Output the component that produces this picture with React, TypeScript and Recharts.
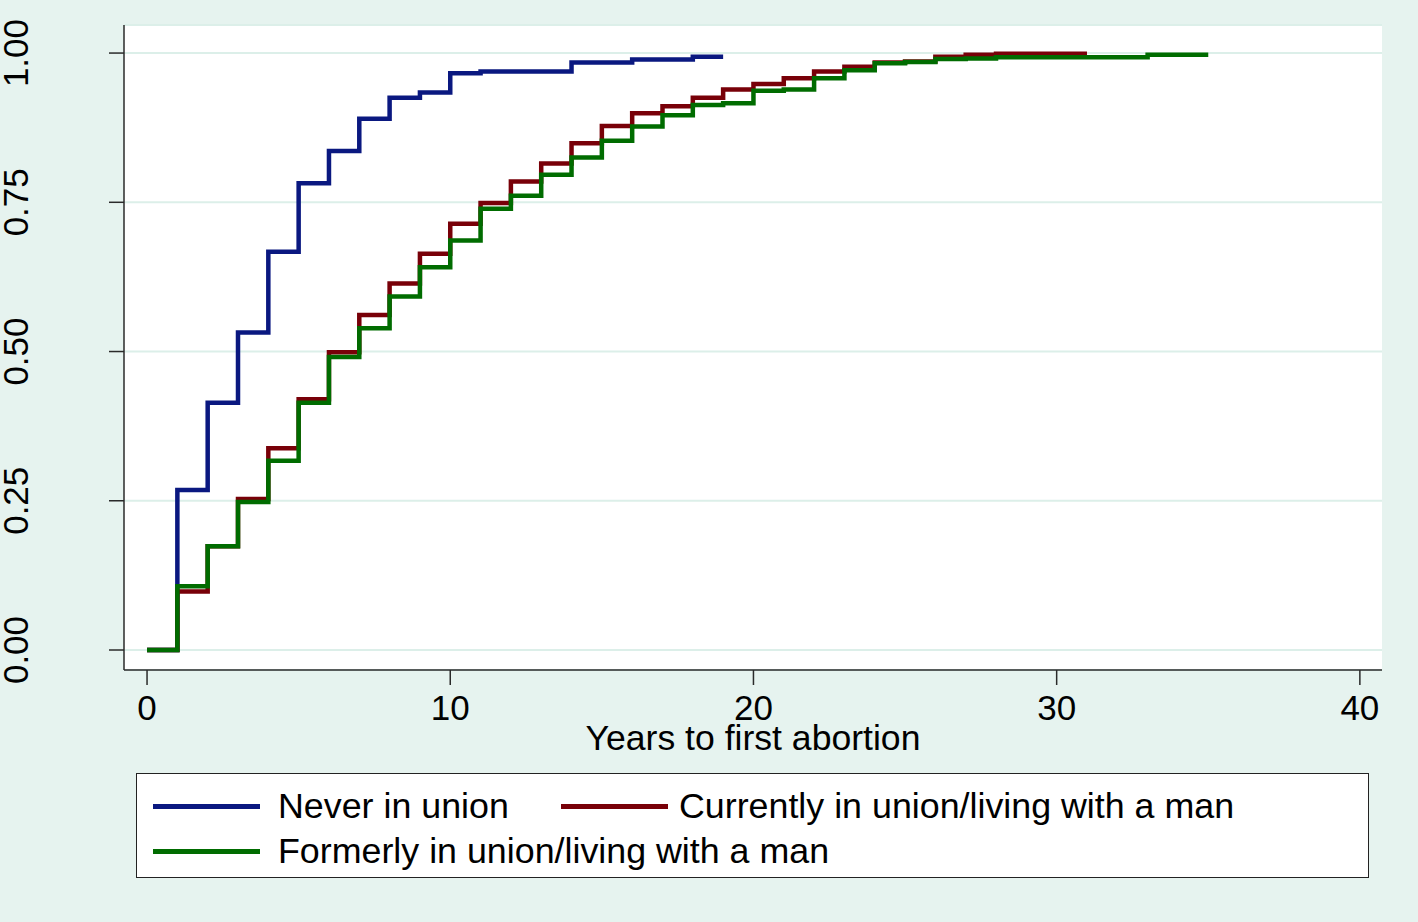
import React from 'react';
import { LineChart, Line, XAxis, YAxis, CartesianGrid, Legend } from 'recharts';

// Kaplan-Meier failure estimates
const neverYears = [0, 1, 2, 3, 4, 5, 6, 7, 8, 9, 10, 11, 14, 16, 18, 19];
const neverValues = [0, 0.268, 0.414, 0.532, 0.667, 0.782, 0.836, 0.89, 0.925, 0.934, 0.966, 0.969, 0.984, 0.989, 0.994, 0.994];

const currentYears = [0, 1, 2, 3, 4, 5, 6, 7, 8, 9, 10, 11, 12, 13, 14, 15, 16, 17, 18, 19, 20, 21, 22, 23, 24, 25, 26, 27, 28, 31];
const currentValues = [0, 0.098, 0.174, 0.253, 0.338, 0.42, 0.499, 0.561, 0.614, 0.664, 0.714, 0.749, 0.785, 0.815, 0.849, 0.878, 0.899, 0.911, 0.925, 0.939, 0.948, 0.958, 0.969, 0.977, 0.984, 0.986, 0.994, 0.997, 0.999, 0.999];

const formerYears = [0, 1, 2, 3, 4, 5, 6, 7, 8, 9, 10, 11, 12, 13, 14, 15, 16, 17, 18, 19, 20, 21, 22, 23, 24, 25, 26, 27, 28, 33, 35];
const formerValues = [0, 0.107, 0.174, 0.248, 0.317, 0.414, 0.491, 0.539, 0.592, 0.641, 0.686, 0.739, 0.761, 0.796, 0.825, 0.853, 0.877, 0.896, 0.913, 0.916, 0.937, 0.939, 0.958, 0.971, 0.983, 0.985, 0.99, 0.991, 0.993, 0.997, 0.997];

const xTicks = [0, 10, 20, 30, 40];
const yTicks = [0, 0.25, 0.5, 0.75, 1];
const yTickLabels = ['0.00', '0.25', '0.50', '0.75', '1.00'];

const seriesNames = ['Never in union', 'Currently in union/living with a man', 'Formerly in union/living with a man'];

const toRows = (years: number[], values: number[]) => years.map((t, i) => ({ t, v: values[i] }));

const FONT = '"Liberation Sans", Arial, Helvetica, sans-serif';
const BG = '#e6f3ef';
const AXIS = '#2a2a2a';

const YTick = (props: any) => {
  const { y, payload } = props;
  const idx = yTicks.indexOf(payload.value);
  return (
    <text x={28} y={y} transform={`rotate(-90 28 ${y})`} textAnchor="middle" fontSize={35} fontFamily={FONT} fill="#000">
      {idx >= 0 ? yTickLabels[idx] : payload.value}
    </text>
  );
};

const XTick = (props: any) => {
  const { x, payload } = props;
  return (
    <text x={x} y={720} textAnchor="middle" fontSize={35} fontFamily={FONT} fill="#000">
      {payload.value}
    </text>
  );
};

// legend slots, in the order of seriesNames
const spots = [
  { sx: 16, tx: 141, cy: 32 },
  { sx: 424, tx: 542, cy: 32 },
  { sx: 16, tx: 141, cy: 77 },
];

const LegendBox = (props: any) => {
  const items = props.payload || [];
  return (
    <div style={{ position: 'relative', width: 1233, height: 105, boxSizing: 'border-box', border: '1.5px solid #222', background: '#fff', fontFamily: FONT }}>
      {items.map((it: any) => {
        const s = spots[seriesNames.indexOf(it.value)];
        if (!s) return null;
        return (
          <React.Fragment key={it.value}>
            <div style={{ position: 'absolute', left: s.sx, top: s.cy - 2, width: 107, height: 4.5, background: it.color }} />
            <div style={{ position: 'absolute', left: s.tx, top: s.cy - 18, height: 36, lineHeight: '36px', fontSize: 35.8, color: '#000', whiteSpace: 'nowrap' }}>
              {it.value}
            </div>
          </React.Fragment>
        );
      })}
    </div>
  );
};

export default function App() {
  return (
    <div style={{ position: 'absolute', left: 0, top: 0, width: 1418, height: 922, background: BG }}>
      <LineChart width={1418} height={922} margin={{ top: 25, right: 36, bottom: 222, left: 10 }}>
        <CartesianGrid vertical={false} stroke="#dcefe9" strokeWidth={2} fill="#ffffff" />
        <XAxis
          type="number"
          dataKey="t"
          domain={[-0.76, 40.73]}
          ticks={xTicks}
          height={30}
          tickSize={15}
          stroke={AXIS}
          strokeWidth={1.5}
          tick={<XTick />}
          allowDataOverflow
          label={{
            content: (p: any) => (
              <text x={p.viewBox.x + p.viewBox.width / 2} y={750} textAnchor="middle" fontSize={35.6} fontFamily={FONT} fill="#000">
                Years to first abortion
              </text>
            ),
          }}
        />
        <YAxis
          type="number"
          dataKey="v"
          domain={[-0.0335, 1.047]}
          ticks={yTicks}
          width={114}
          tickSize={15}
          stroke={AXIS}
          strokeWidth={1.5}
          tick={<YTick />}
          allowDataOverflow
        />
        <Legend
          layout="vertical"
          align="center"
          verticalAlign="middle"
          wrapperStyle={{ left: 136, top: 773, width: 1233, height: 105 }}
          content={<LegendBox />}
        />
        <Line data={toRows(neverYears, neverValues)} dataKey="v" name={seriesNames[0]} type="stepAfter" stroke="#0a1880" strokeWidth={4.5} dot={false} isAnimationActive={false} />
        <Line data={toRows(currentYears, currentValues)} dataKey="v" name={seriesNames[1]} type="stepAfter" stroke="#780008" strokeWidth={4.5} dot={false} isAnimationActive={false} />
        <Line data={toRows(formerYears, formerValues)} dataKey="v" name={seriesNames[2]} type="stepAfter" stroke="#006c00" strokeWidth={4.5} dot={false} isAnimationActive={false} />
      </LineChart>
    </div>
  );
}
